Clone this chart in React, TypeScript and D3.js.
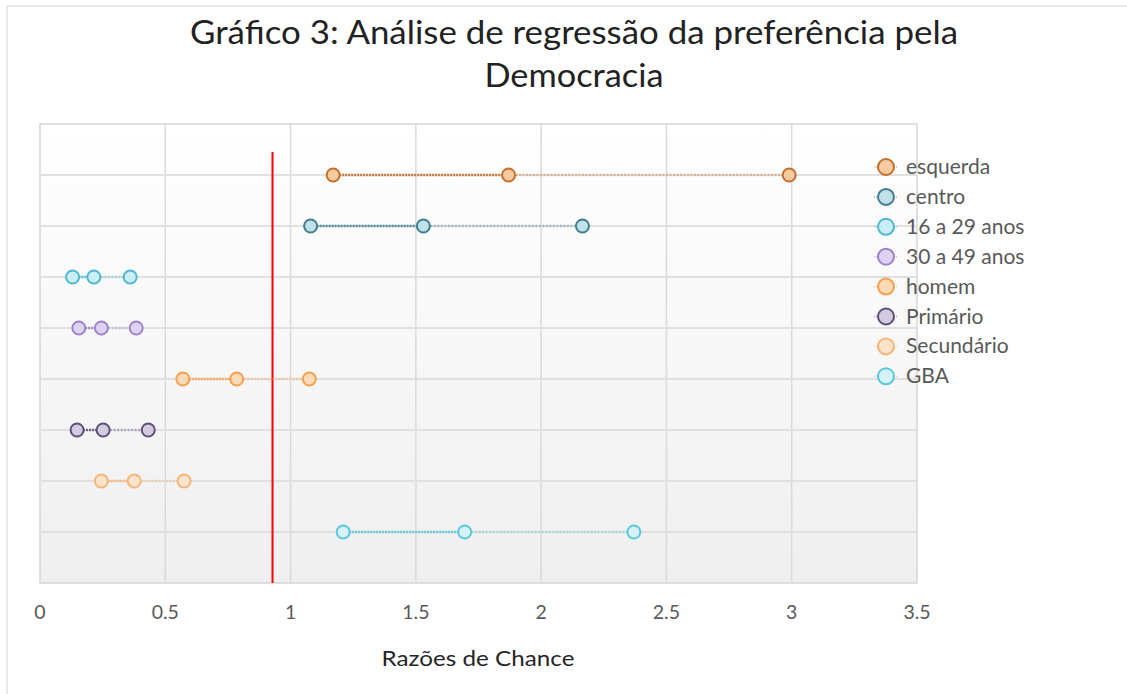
import React from 'react'
import * as d3 from 'd3'

// categories, top to bottom
const categories = ['esquerda', 'centro', '16 a 29 anos', '30 a 49 anos', 'homem', 'Primário', 'Secundário', 'GBA']
// lower bound, odds ratio, upper bound
const lower = [1.17, 1.08, 0.13, 0.155, 0.57, 0.148, 0.245, 1.21]
const estimate = [1.87, 1.53, 0.215, 0.245, 0.785, 0.252, 0.376, 1.695]
const upper = [2.99, 2.165, 0.36, 0.384, 1.075, 0.432, 0.575, 2.37]
const strokeColors = ['#c4702c', '#3f7f90', '#4db9d1', '#9d84c9', '#f4a04f', '#5e5079', '#f6b47a', '#5ac7de']
const fillColors = ['#f7caa0', '#c2e0e7', '#c9eef6', '#ddd2f1', '#fcdab5', '#d3cbe0', '#fde3ca', '#d6f2f8']
const xTicks = [0, 0.5, 1, 1.5, 2, 2.5, 3, 3.5]
const refLine = { x: 0.928, y0: 0, y1: 8.45 }

const WIDTH = 1127
const HEIGHT = 694
const PLOT = { LEFT: 40, RIGHT: 917, TOP: 124, BOTTOM: 583 }

export default function App() {
  const x = d3.scaleLinear().domain([0, 3.5]).range([PLOT.LEFT, PLOT.RIGHT])
  const y = d3.scaleLinear().domain([0, 9]).range([PLOT.BOTTOM, PLOT.TOP])
  const rowValue = (i: number) => categories.length - i
  const font = 'Lato, "Open Sans", sans-serif'

  return (
    <svg width={WIDTH} height={HEIGHT} style={{ position: 'absolute', left: 0, top: 0 }} fontFamily={font}>
      <defs>
        <linearGradient id="plotBg" x1="0" y1="0" x2="0" y2="1">
          <stop offset="0" stopColor="#ffffff" />
          <stop offset="1" stopColor="#efefef" />
        </linearGradient>
      </defs>
      <rect x={0} y={0} width={WIDTH} height={HEIGHT} fill="#fff" />
      {/* chart border */}
      <line x1={7} x2={7} y1={6} y2={HEIGHT} stroke="#e2e2e2" strokeWidth={1.5} />
      <line x1={7} x2={WIDTH} y1={6} y2={6} stroke="#e2e2e2" strokeWidth={1.5} />

      <text x={574} y={44} textAnchor="middle" fontSize={33} fill="#222" textLength={768} lengthAdjust="spacingAndGlyphs">
        Gráfico 3: Análise de regressão da preferência pela
      </text>
      <text x={574} y={87} textAnchor="middle" fontSize={33} fill="#222" textLength={179} lengthAdjust="spacingAndGlyphs">Democracia</text>

      {/* plot area */}
      <rect x={PLOT.LEFT} y={PLOT.TOP} width={PLOT.RIGHT - PLOT.LEFT} height={PLOT.BOTTOM - PLOT.TOP}
        fill="url(#plotBg)" stroke="#d6d6d6" strokeWidth={1.5} />
      {xTicks.slice(1, -1).map(t => (
        <line key={'v' + t} x1={x(t)} x2={x(t)} y1={PLOT.TOP} y2={PLOT.BOTTOM} stroke="#dadada" strokeWidth={1.5} />
      ))}
      {categories.map((c, i) => (
        <line key={'h' + c} x1={PLOT.LEFT} x2={PLOT.RIGHT} y1={y(rowValue(i))} y2={y(rowValue(i))}
          stroke="#e0e0e0" strokeWidth={2} />
      ))}

      {/* red reference line */}
      <line x1={x(refLine.x)} x2={x(refLine.x)} y1={y(refLine.y1)} y2={y(refLine.y0)} stroke="#ff0000" strokeWidth={2} />

      {/* series */}
      {categories.map((c, i) => {
        const yy = y(rowValue(i))
        return (
          <g key={c}>
            <line x1={x(lower[i])} x2={x(estimate[i])} y1={yy} y2={yy}
              stroke={strokeColors[i]} strokeWidth={2.5} strokeDasharray="2 1" opacity={0.9} />
            <line x1={x(estimate[i])} x2={x(upper[i])} y1={yy} y2={yy}
              stroke={strokeColors[i]} strokeWidth={2.5} strokeDasharray="2 1.5" opacity={0.4} />
            {[lower[i], estimate[i], upper[i]].map((v, k) => (
              <circle key={k} cx={x(v)} cy={yy} r={6.5} fill={fillColors[i]} stroke={strokeColors[i]} strokeWidth={2} />
            ))}
          </g>
        )
      })}

      {/* x axis labels */}
      {xTicks.map(t => (
        <text key={'t' + t} x={x(t)} y={619} textAnchor="middle" fontSize={19.5} fill="#595959">{t}</text>
      ))}
      <text x={478} y={666} textAnchor="middle" fontSize={22} fill="#262626" textLength={193} lengthAdjust="spacingAndGlyphs">Razões de Chance</text>

      {/* legend */}
      {categories.map((c, i) => {
        const ly = 167 + i * 29.9
        return (
          <g key={'l' + c}>
            <line x1={874} x2={898} y1={ly} y2={ly} stroke={strokeColors[i]} strokeWidth={1.5} strokeDasharray="1 1" opacity={0.5} />
            <circle cx={886} cy={ly} r={8} fill={fillColors[i]} stroke={strokeColors[i]} strokeWidth={2} />
            <text x={906} y={ly + 7} fontSize={21} fill="#595959">{c}</text>
          </g>
        )
      })}
    </svg>
  )
}
